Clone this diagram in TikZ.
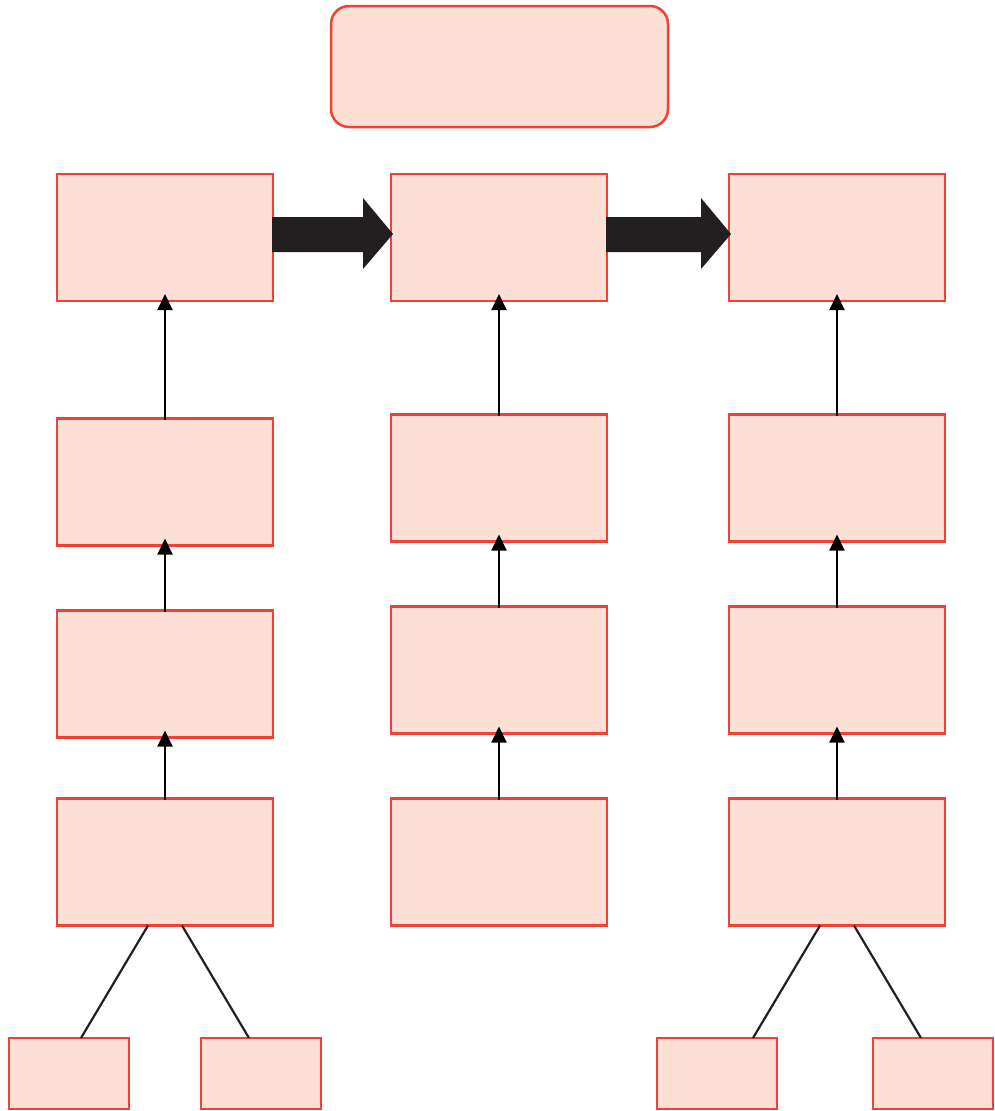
\documentclass[tikz,border=0pt]{standalone}
\usetikzlibrary{arrows.meta,calc}
\definecolor{boxfill}{HTML}{FCE0D6}
\definecolor{boxline}{HTML}{EF4136}
\definecolor{ink}{HTML}{231F20}
\begin{document}
\begin{tikzpicture}[x=1pt,y=-1pt,
  box/.style={draw=boxline,fill=boxfill,line width=2.5pt,rectangle,inner sep=0pt,outer sep=0pt,minimum width=216pt,minimum height=127pt},
  smallbox/.style={box,minimum width=120pt,minimum height=71pt},
  titlebox/.style={box,rounded corners=18pt,minimum width=337pt,minimum height=121pt},
  uparrow/.style={draw=black,line width=2pt,-{Triangle[length=16pt,width=15pt]},shorten >=-7pt,shorten <=-1pt},
  bigarrow/.style={fill=ink},
  link/.style={draw=ink,line width=2.2pt}]
\useasboundingbox (0,0) rectangle (995,1111);
\node[titlebox] (T) at (499.5,66.5) {};
% row 1
\node[box] (L1) at (165,237.5) {};
\node[box] (M1) at (499,237.5) {};
\node[box] (R1) at (837,237.5) {};
% row 2
\node[box] (L2) at (165,482) {};
\node[box] (M2) at (499,478) {};
\node[box] (R2) at (837,478) {};
% row 3
\node[box] (L3) at (165,674) {};
\node[box] (M3) at (499,670) {};
\node[box] (R3) at (837,670) {};
% row 4
\node[box] (L4) at (165,862) {};
\node[box] (M4) at (499,862) {};
\node[box] (R4) at (837,862) {};
% small boxes
\node[smallbox] (S1) at (69,1073.5) {};
\node[smallbox] (S2) at (261,1073.5) {};
\node[smallbox] (S3) at (717,1073.5) {};
\node[smallbox] (S4) at (933,1073.5) {};
% big arrows
\fill[bigarrow] ($(L1.east)+(-1,-20.5)$) -- ($(M1.west)+(-28,-20.5)$) -- ($(M1.west)+(-28,-39.5)$)
  -- ($(M1.west)+(2,-3.5)$) -- ($(M1.west)+(-28,31.5)$) -- ($(M1.west)+(-28,14.5)$) -- ($(L1.east)+(-1,14.5)$) -- cycle;
\fill[bigarrow] ($(M1.east)+(-1,-20.5)$) -- ($(R1.west)+(-28,-20.5)$) -- ($(R1.west)+(-28,-39.5)$)
  -- ($(R1.west)+(2,-3.5)$) -- ($(R1.west)+(-28,31.5)$) -- ($(R1.west)+(-28,14.5)$) -- ($(M1.east)+(-1,14.5)$) -- cycle;
% up arrows
\draw[uparrow] (L2.north) -- (L1.south);
\draw[uparrow] (L3.north) -- (L2.south);
\draw[uparrow] (L4.north) -- (L3.south);
\draw[uparrow] (M2.north) -- (M1.south);
\draw[uparrow] (M3.north) -- (M2.south);
\draw[uparrow] (M4.north) -- (M3.south);
\draw[uparrow] (R2.north) -- (R1.south);
\draw[uparrow] (R3.north) -- (R2.south);
\draw[uparrow] (R4.north) -- (R3.south);
% links to small boxes
\draw[link] ($(L4.south)+(-17,0)$) -- ($(S1.north)+(12,0)$);
\draw[link] ($(L4.south)+(17,0)$) -- ($(S2.north)+(-12,0)$);
\draw[link] ($(R4.south)+(-17,0)$) -- ($(S3.north)+(36,0)$);
\draw[link] ($(R4.south)+(17,0)$) -- ($(S4.north)+(-12,0)$);
\end{tikzpicture}
\end{document}
